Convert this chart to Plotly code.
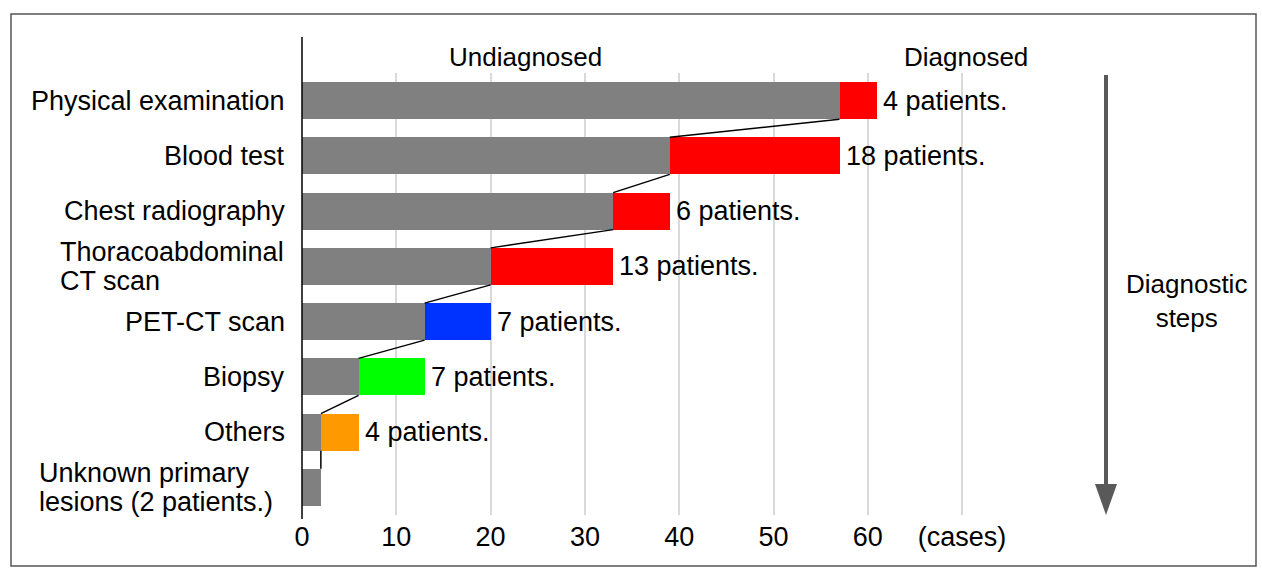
import plotly.graph_objects as go

# ---- data ----
steps = ["Physical examination", "Blood test", "Chest radiography",
         "Thoracoabdominal<br>CT scan", "PET-CT scan", "Biopsy", "Others",
         "Unknown primary<br>lesions (2 patients.)"]
undiagnosed = [57, 39, 33, 20, 13, 6, 2, 2]
diagnosed = [4, 18, 6, 13, 7, 7, 4, 0]
diag_labels = ["4 patients.", "18 patients.", "6 patients.", "13 patients.",
               "7 patients.", "7 patients.", "4 patients.", ""]
diag_colors = ["#FF0000", "#FF0000", "#FF0000", "#FF0000",
               "#0033FF", "#00FF00", "#FF9900", "#FF9900"]
tick_vals = [0, 10, 20, 30, 40, 50, 60, 70]
tick_text = ["0", "10", "20", "30", "40", "50", "60", "(cases)"]

# ---- style ----
FONT = "Liberation Sans, Arial, sans-serif"
FS = 27
W, H = 1262, 568
L, R, T, B = 302, 17, 73, 53
BARW = 0.67
pw = W - L - R
ph = H - T - B

def px_x(p):
    return (p - L) / pw

def px_y(p):
    return (H - B - p) / ph

idx = list(range(len(steps)))

fig = go.Figure()
fig.add_trace(go.Bar(y=idx, x=undiagnosed, orientation="h", width=BARW,
                     marker=dict(color="#808080", line=dict(width=0)),
                     hoverinfo="skip"))
fig.add_trace(go.Bar(y=idx, x=diagnosed, base=undiagnosed, orientation="h",
                     width=BARW, marker=dict(color=diag_colors, line=dict(width=0)),
                     hoverinfo="skip"))

# connector lines
lx, ly = [], []
for i in range(len(steps) - 1):
    lx += [undiagnosed[i], undiagnosed[i + 1], None]
    ly += [i + BARW / 2, i + 1 - BARW / 2, None]
fig.add_trace(go.Scatter(x=lx, y=ly, mode="lines",
                         line=dict(color="black", width=1.5), hoverinfo="skip"))

ann = []
# value labels
for i in idx:
    if diag_labels[i]:
        ann.append(dict(x=undiagnosed[i] + diagnosed[i], y=i, xref="x", yref="y",
                        text=diag_labels[i], showarrow=False, xanchor="left",
                        yanchor="middle", xshift=4,
                        font=dict(size=FS, color="black", family=FONT)))

# category labels
left_edges = {3: 58, 7: 37}
for i in idx:
    lines = steps[i].split("<br>")
    n = len(lines)
    for k, ln in enumerate(lines):
        ys = ((n - 1) / 2 - k) * 29
        if n == 1:
            ann.append(dict(x=0, y=i, xref="paper", yref="y", text=ln,
                            showarrow=False, xanchor="right", yanchor="middle",
                            xshift=-15,
                            font=dict(size=FS, color="black", family=FONT)))
        else:
            ann.append(dict(x=px_x(left_edges.get(i, 40)), y=i, xref="paper",
                            yref="y", text=ln, showarrow=False, xanchor="left",
                            yanchor="middle", yshift=ys,
                            font=dict(size=FS, color="black", family=FONT)))

ann.append(dict(x=23.7, y=px_y(57), xref="x", yref="paper", text="Undiagnosed",
                showarrow=False, xanchor="center", yanchor="middle",
                font=dict(size=FS - 1, color="black", family=FONT)))
ann.append(dict(x=70.4, y=px_y(57), xref="x", yref="paper", text="Diagnosed",
                showarrow=False, xanchor="center", yanchor="middle",
                font=dict(size=FS - 1, color="black", family=FONT)))
ann.append(dict(x=px_x(1186), y=px_y(301), xref="paper", yref="paper",
                text="Diagnostic<br>steps", showarrow=False,
                xanchor="center", yanchor="middle",
                font=dict(size=FS - 1, color="black", family=FONT)))

shapes = [
    # frame
    dict(type="rect", xref="paper", yref="paper", x0=px_x(11), x1=px_x(1256),
         y0=px_y(566), y1=px_y(14), line=dict(color="#555555", width=1.5)),
    # y axis line
    dict(type="line", xref="paper", yref="paper", x0=0, x1=0,
         y0=px_y(519), y1=px_y(37), line=dict(color="black", width=1.5)),
    # arrow shaft
    dict(type="line", xref="paper", yref="paper", x0=px_x(1106), x1=px_x(1106),
         y0=px_y(488), y1=px_y(75), line=dict(color="#595959", width=4)),
    # arrow head
    dict(type="path", xref="paper", yref="paper", xsizemode="pixel",
         ysizemode="pixel", xanchor=px_x(1106), yanchor=0,
         path="M -11,31 L 11,31 L 0,0 Z", fillcolor="#595959",
         line=dict(color="#595959", width=0)),
]

fig.update_layout(
    width=W, height=H, barmode="stack", showlegend=False,
    margin=dict(l=L, r=R, t=T, b=B, pad=0),
    paper_bgcolor="white", plot_bgcolor="white",
    font=dict(family=FONT, size=FS, color="black"),
    bargap=0, annotations=ann, shapes=shapes,
    xaxis=dict(range=[0, 100], tickvals=tick_vals, ticktext=tick_text,
               showgrid=True, gridcolor="#d9d9d9", gridwidth=1.5,
               zeroline=False, showline=False, ticks="", ticklabelstandoff=3,
               tickfont=dict(size=FS, family=FONT, color="black")),
    yaxis=dict(range=[len(steps) - 0.5, -0.5], showticklabels=False,
               showgrid=False, zeroline=False, showline=False, ticks=""),
)

fig.write_html("out.html", config={"displayModeBar": False},
               post_script="document.body.style.margin='0';document.body.style.overflow='hidden';")
